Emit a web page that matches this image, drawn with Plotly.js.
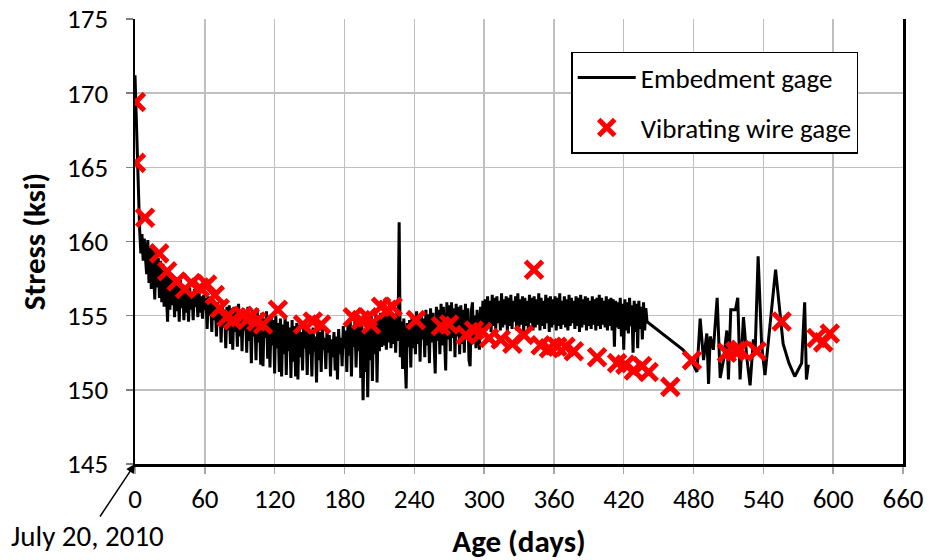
<!DOCTYPE html>
<html>
<head>
<meta charset="utf-8">
<script src="https://cdn.plot.ly/plotly-3.0.1.min.js"></script>
<style>html,body{margin:0;padding:0;background:#fff;}#chart{width:930px;height:560px;}</style>
</head>
<body>
<div id="chart"></div>
<script>
// Embedment gage, dense daily readings (day 0 .. 440)
const embDenseStart = 0;
const embDenseStress = [
171.2,168.5,165.0,162.3,160.8,159.2,160.5,158.7,160.2,158.9,
157.8,160.1,157.2,159.6,156.8,159.8,157.5,156.1,159.3,156.9,
158.9,156.2,158.7,155.9,158.5,155.6,158.2,156.4,154.6,158.0,
155.4,157.8,155.7,157.5,154.9,157.6,155.3,157.2,154.6,157.4,
155.5,157.1,154.7,156.8,155.2,157.0,154.6,156.9,155.4,156.6,
154.7,156.8,155.6,156.5,154.9,156.7,155.2,156.3,154.8,156.4,
155.4,156.2,154.1,156.3,155.0,155.9,153.9,156.1,154.7,155.8,
153.6,155.9,154.5,155.7,153.2,155.8,154.2,155.4,152.8,155.6,
154.0,155.7,153.1,155.5,152.7,155.6,153.9,155.3,152.9,155.8,
153.6,155.4,152.6,155.5,154.0,155.2,152.5,155.6,153.3,155.1,
151.8,155.4,153.6,155.0,152.0,155.5,153.2,154.9,151.7,155.2,
151.6,154.8,153.5,155.3,152.1,154.6,151.5,155.0,153.0,154.7,
151.1,155.0,152.8,154.5,151.2,154.8,150.9,154.4,152.4,154.9,
151.0,154.6,152.6,154.2,150.8,154.7,151.9,154.3,150.9,154.5,
150.7,154.4,152.2,153.9,151.3,154.6,152.8,154.0,151.0,154.3,
152.4,153.8,150.9,154.2,152.6,153.6,150.5,154.1,152.0,153.9,
151.2,154.2,152.7,153.5,151.4,154.0,152.5,153.7,150.9,153.4,
152.2,153.9,151.3,153.6,150.7,154.1,152.4,153.5,151.6,154.3,
152.8,154.0,151.2,154.4,152.3,154.6,150.9,154.2,152.9,154.7,
151.5,154.5,152.6,154.8,150.8,154.3,149.3,153.8,151.2,154.9,
149.5,154.6,152.0,155.0,150.6,154.7,152.4,155.1,150.5,154.8,
152.6,155.2,152.9,154.9,153.0,155.3,152.7,155.0,153.2,155.4,
152.8,155.1,153.1,154.9,152.5,155.2,153.3,161.3,152.2,154.6,
151.4,154.8,152.6,150.1,154.5,152.9,154.7,151.5,155.0,152.8,
154.9,152.4,155.3,153.1,155.0,151.9,155.2,153.4,154.8,152.2,
155.4,153.0,155.1,151.8,155.5,153.2,155.2,152.5,151.1,155.6,
153.3,155.4,152.4,155.8,153.0,155.6,152.7,151.3,155.9,153.4,
155.7,152.6,155.9,153.5,155.5,152.2,155.8,153.6,155.6,152.4,
155.7,153.1,155.4,152.5,155.8,153.4,155.5,152.0,151.6,155.3,
155.9,153.2,155.0,152.8,155.4,153.5,152.7,155.6,153.8,156.0,
154.2,156.1,154.0,156.3,154.4,156.0,153.9,156.4,154.3,156.2,
154.1,156.3,154.5,156.0,154.0,156.5,154.2,156.1,154.4,156.3,
153.9,156.2,154.3,156.4,154.1,156.0,154.6,156.3,154.0,156.5,
154.2,156.1,154.4,156.3,153.9,156.2,154.3,156.0,154.1,156.4,
154.5,156.2,154.0,156.3,154.2,156.1,154.4,156.5,154.0,156.2,
154.3,156.0,154.1,156.4,154.5,156.2,153.9,156.3,154.2,156.1,
154.4,156.3,154.0,156.2,154.3,156.5,154.1,156.0,154.4,156.3,
154.2,156.1,154.0,156.4,154.3,156.2,154.5,156.0,154.1,156.3,
154.3,156.2,153.9,156.4,154.2,156.1,154.4,156.3,154.0,156.2,
154.3,156.0,154.1,156.3,154.4,156.1,154.0,156.2,154.3,156.4,
154.1,156.2,154.4,156.0,154.2,156.3,154.0,156.1,154.3,156.2,
154.0,156.1,152.9,156.0,154.2,155.9,154.1,156.2,153.6,155.8,
152.7,156.1,154.0,155.9,153.8,156.2,154.3,155.7,152.5,156.0,
153.9,155.8,152.8,156.0,154.1,155.6,153.4,155.9,154.0,155.5,
154.6
];
// Embedment gage, sparse readings after the gap
const embSparseDays = [471,478,482.9,485.7,488.6,491.4,492.9,494.3,497,500.3,502.9,505.7,508.6,510,512,516,518,520,522.9,525.7,528.6,531.4,532.9,535.5,538.6,541.4,550.5,557,562,567,572.9,575.5,577,578.6];
const embSparseStress = [152.7,152.0,151.2,154.8,152.0,153.8,150.4,153.6,152.7,156.2,150.8,152.0,154.0,150.7,155.4,155.4,156.2,150.7,154.9,152.2,150.3,153.4,152.5,159.0,152.9,151.0,158.1,153.1,151.8,150.9,151.8,155.9,150.7,151.7];

// Vibrating wire gage
const vwDays = [0.8,0.8,8.6,20.8,27.7,35.7,42.9,48.6,55.7,62,68.6,72.9,78.6,84.3,92.8,98.6,104.3,110,122.8,144.3,152.8,160,187.1,194.3,200,202.9,211.4,217.1,221.4,241.4,262.9,270,284.3,291.4,298.6,304.3,314.3,324.3,334.3,342.9,348.6,355.7,362.9,370,377.1,397.1,414.3,421.4,428.6,435.7,441.4,460,478.6,508.6,515.7,520,534.3,555.7,585.7,591.4,597.1];
const vwStress = [169.4,165.3,161.6,159.2,158.0,157.3,156.8,157.2,156.9,157.1,156.4,155.5,154.9,154.7,155.0,154.9,154.6,154.4,155.4,154.4,154.6,154.4,154.9,154.7,154.9,154.4,155.6,155.4,155.6,154.7,154.3,154.4,153.7,154.0,153.9,153.5,153.4,153.1,153.7,158.1,153.0,152.8,152.9,152.9,152.6,152.2,151.8,151.7,151.3,151.6,151.2,150.2,152.0,152.5,152.6,152.7,152.6,154.6,153.5,153.2,153.8];

const xTicks = [0,60,120,180,240,300,360,420,480,540,600,660];
const yTicks = [145,150,155,160,165,170,175];

const embX = embDenseStress.map((v, i) => embDenseStart + i).concat(embSparseDays);
const embY = embDenseStress.concat(embSparseStress);

const FONT = 'Carlito, Lato, "Open Sans", sans-serif';

const traces = [
  {
    x: embX, y: embY, type: 'scatter', mode: 'lines',
    name: 'Embedment gage', legendgroup: 'a',
    line: {color: '#000000', width: 3},
    hoverinfo: 'skip'
  },
  {
    x: vwDays, y: vwStress, type: 'scatter', mode: 'markers',
    name: 'Vibrating wire gage', legendgroup: 'b',
    marker: {symbol: 'x-thin', size: 17, color: '#FF0000', line: {color: '#FF0000', width: 5}},
    hoverinfo: 'skip'
  }
];

const layout = {
  width: 930, height: 560,
  margin: {l: 135, r: 27, t: 19, b: 96},
  paper_bgcolor: '#ffffff', plot_bgcolor: '#ffffff',
  font: {family: FONT, size: 26, color: '#000000'},
  showlegend: true,
  legend: {
    x: 0.568, y: 0.926, xanchor: 'left', yanchor: 'top',
    bgcolor: '#ffffff', bordercolor: '#000000', borderwidth: 1.5,
    font: {family: FONT, size: 27, color: '#000000'},
    traceorder: 'grouped', tracegroupgap: 12,
    itemwidth: 58
  },
  xaxis: {
    range: [0, 660], tickvals: xTicks, ticktext: xTicks.map(String),
    showgrid: true, gridcolor: '#BFBFBF', gridwidth: 1.5,
    showline: true, linecolor: '#000000', linewidth: 2.5,
    ticks: 'outside', ticklen: 7, tickcolor: '#A6A6A6', tickwidth: 1.5,
    zeroline: false, mirror: false,
    tickfont: {family: FONT, size: 27},
    ticklabelstandoff: 2,
    title: {text: '<b>Age (days)</b>', font: {family: FONT, size: 31}, standoff: 17}
  },
  yaxis: {
    range: [145, 175], tickvals: yTicks, ticktext: yTicks.map(String),
    showgrid: true, gridcolor: '#BFBFBF', gridwidth: 1.5,
    showline: true, linecolor: '#000000', linewidth: 2.5,
    ticks: 'outside', ticklen: 7, tickcolor: '#7F7F7F', tickwidth: 1.5,
    zeroline: false, mirror: true,
    tickfont: {family: FONT, size: 27},
    ticklabelstandoff: 12,
    title: {text: '<b>Stress (ksi)</b>', font: {family: FONT, size: 31}, standoff: 12}
  },
  annotations: [
    {
      x: 0, y: 145, xref: 'x', yref: 'y',
      text: 'July 20, 2010', showarrow: true,
      arrowhead: 2, arrowsize: 1.2, arrowwidth: 1.5, arrowcolor: '#000000',
      ax: -48, ay: 72,
      font: {family: FONT, size: 29, color: '#000000'}
    }
  ]
};

Plotly.newPlot('chart', traces, layout, {displayModeBar: false, staticPlot: true});
</script>
</body>
</html>
